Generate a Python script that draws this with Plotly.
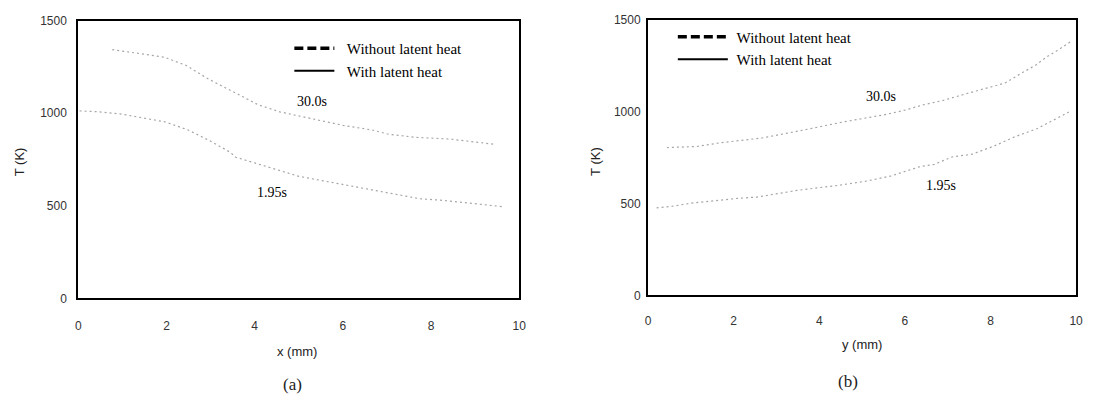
import plotly.graph_objects as go

# ---- temperature profiles, panel (a): along x ----
x_30s = [0.77, 1.95, 2.45, 2.95, 3.72, 4.07, 4.57, 6.0, 6.66, 7.04, 7.66, 8.43, 9.47]
T_30s_x = [1343, 1302, 1257, 1184, 1090, 1046, 1007, 934, 909, 886, 869, 860, 831]

x_195s = [0.03, 0.48, 0.98, 1.64, 1.98, 2.49, 3.03, 3.45, 3.57, 5.0, 7.31, 7.74, 8.28, 8.74, 9.2, 9.63]
T_195s_x = [1012, 1007, 995, 969, 952, 909, 845, 788, 762, 659, 555, 538, 529, 517, 503, 495]

# ---- temperature profiles, panel (b): along y ----
y_30s = [0.44, 1.14, 1.68, 2.33, 2.66, 3.65, 4.14, 4.55, 5.56, 6.03, 6.42, 6.89, 7.45,
         8.0, 8.33, 8.7, 9.06, 9.32, 9.55, 9.91]
T_30s_y = [804, 810, 830, 848, 856, 900, 922, 943, 984, 1009, 1036, 1060, 1098,
           1133, 1154, 1205, 1253, 1298, 1330, 1385]

y_195s = [0.2, 0.53, 1.02, 1.51, 2.09, 2.54, 3.48, 4.06, 4.39, 5.13, 5.68, 6.36, 6.69,
          7.1, 7.57, 8.09, 8.56, 9.08, 9.4, 9.83]
T_195s_y = [476, 484, 502, 514, 528, 535, 571, 588, 597, 623, 650, 701, 713,
            753, 768, 813, 862, 906, 943, 997]

time_labels = ["30.0s", "1.95s"]
legend_names = ["Without latent heat", "With latent heat"]
x_ticks = [0, 2, 4, 6, 8, 10]
T_ticks = [0, 500, 1000, 1500]

# label anchor points in data units
lab_a = [(5.3, 1064), (4.4, 572)]
lab_b = [(5.44, 1081), (6.84, 597)]

SERIF = "Liberation Serif, Times New Roman, serif"
SANS = "Liberation Sans, Arial, sans-serif"
CURVE = dict(color="#a6a6a6", width=1.2, dash="2px,3px")
NB = "\u00a0"

fig = go.Figure()

# profile curves
for xs, ts in [(x_30s, T_30s_x), (x_195s, T_195s_x)]:
    fig.add_trace(go.Scatter(x=xs, y=ts, mode="lines", line=CURVE,
                             showlegend=False, xaxis="x", yaxis="y", hoverinfo="skip"))
for xs, ts in [(y_30s, T_30s_y), (y_195s, T_195s_y)]:
    fig.add_trace(go.Scatter(x=xs, y=ts, mode="lines", line=CURVE,
                             showlegend=False, xaxis="x2", yaxis="y2", hoverinfo="skip"))

# legend keys for each panel
for ax_x, ax_y, leg, pad in [("x", "y", "legend", NB * 2), ("x2", "y2", "legend2", NB)]:
    fig.add_trace(go.Scatter(x=[None], y=[None], mode="lines", name=pad + legend_names[0],
                             line=dict(color="black", width=3.5, dash="9px,4px"),
                             xaxis=ax_x, yaxis=ax_y, legend=leg))
    fig.add_trace(go.Scatter(x=[None], y=[None], mode="lines", name=pad + legend_names[1],
                             line=dict(color="black", width=2),
                             xaxis=ax_x, yaxis=ax_y, legend=leg))


def xaxis_style(standoff):
    return dict(range=[0, 10], tickvals=x_ticks, showgrid=False, zeroline=False,
                showline=True, linecolor="black", linewidth=2, mirror=True,
                ticks="outside", ticklen=standoff, tickcolor="rgba(0,0,0,0)",
                tickfont=dict(family=SANS, size=12, color="#333"))


def yaxis_style(standoff):
    return dict(range=[0, 1500], tickvals=T_ticks, showgrid=False, zeroline=False,
                showline=True, linecolor="black", linewidth=2, mirror=True,
                ticks="outside", ticklen=standoff, tickcolor="rgba(0,0,0,0)",
                tickfont=dict(family=SANS, size=12, color="#333"))


annotations = []
for (xv, tv), txt in zip(lab_a, time_labels):
    annotations.append(dict(x=xv, y=tv, xref="x", yref="y", text=txt, showarrow=False,
                            font=dict(family=SERIF, size=14, color="black")))
for (xv, tv), txt in zip(lab_b, time_labels):
    annotations.append(dict(x=xv, y=tv, xref="x2", yref="y2", text=txt, showarrow=False,
                            font=dict(family=SERIF, size=14, color="black")))

# axis titles and panel captions
for txt, px, py, ang, fam, sz in [
    ("x (mm)", 297, 357, 0, SANS, 13),
    ("(a)", 292, 391, 0, SERIF, 17),
    ("T (K)", 17, 160, -90, SANS, 13),
    ("y (mm)", 867, 350, 0, SANS, 13),
    ("(b)", 853, 388, 0, SERIF, 17),
    ("T (K)", 598, 160, -90, SANS, 13),
]:
    annotations.append(dict(x=px / 1095, y=1 - py / 398, xref="paper", yref="paper",
                            text=txt, showarrow=False, textangle=ang,
                            font=dict(family=fam, size=sz, color="#222"),
                            xanchor="center", yanchor="middle"))

legend_style = dict(font=dict(family=SERIF, size=15, color="black"),
                    bgcolor="rgba(0,0,0,0)", borderwidth=0,
                    xanchor="left", yanchor="top", tracegroupgap=0)

fig.update_layout(
    width=1095, height=398,
    margin=dict(l=0, r=0, t=0, b=0),
    paper_bgcolor="white", plot_bgcolor="white",
    xaxis=dict(domain=[76 / 1095, 521 / 1095], anchor="y", **xaxis_style(15)),
    yaxis=dict(domain=[1 - 302 / 398, 1 - 14 / 398], anchor="x", **yaxis_style(7)),
    xaxis2=dict(domain=[651 / 1095, 1083 / 1095], anchor="y2", **xaxis_style(13)),
    yaxis2=dict(domain=[1 - 299 / 398, 1 - 13 / 398], anchor="x2", **yaxis_style(3)),
    legend=dict(x=289 / 1095, y=1 - 26 / 398, itemwidth=40, **legend_style),
    legend2=dict(x=676 / 1095, y=1 - 14 / 398, itemwidth=50, **legend_style),
    annotations=annotations,
    showlegend=True,
)

fig.write_html("out.html")
